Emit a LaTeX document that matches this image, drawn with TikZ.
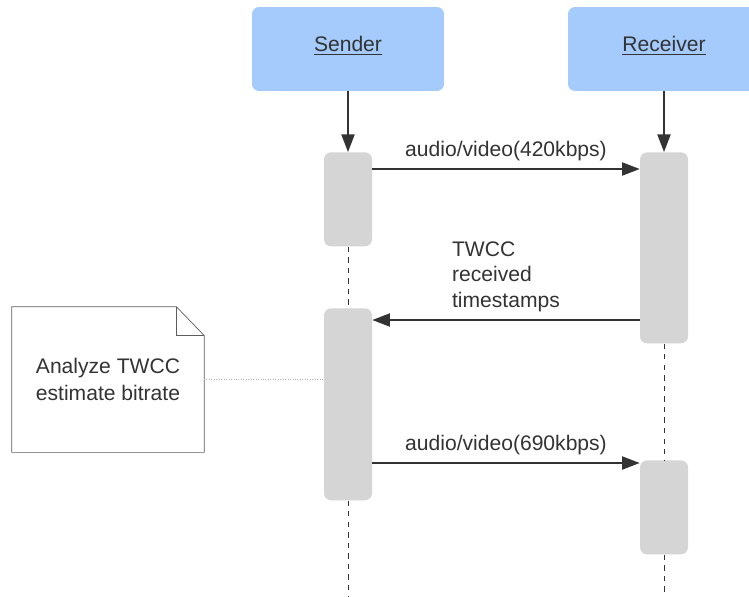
\documentclass[tikz,border=0pt]{standalone}
\usepackage{fontspec}
\setmainfont{Liberation Sans}
\usetikzlibrary{arrows.meta}
\usetikzlibrary{positioning}
\definecolor{headblue}{HTML}{A4CBFB}
\definecolor{bargray}{HTML}{D5D5D5}
\definecolor{inkgray}{HTML}{333333}
\tikzstyle{msg} = [thick,-{Triangle[length=10pt,width=7.5pt]},inkgray]
\tikzstyle{head} = [fill=headblue,rounded corners=4pt,minimum width=3.84cm,minimum height=1.68cm,text=inkgray]
\tikzstyle{bar} = [fill=bargray,rounded corners=4pt,minimum width=0.96cm,inner sep=0pt,anchor=north]
\tikzstyle{life} = [inkgray,dash pattern=on 3pt off 3pt]

\begin{document}
\begin{tikzpicture}[x=0.02cm,y=-0.02cm,font=\fontsize{12}{14.6}\selectfont]

    \path[use as bounding box] (0,0) rectangle (749,596);
    \clip (0,0) rectangle (749,596); % Receiver box runs off the right edge

    \coordinate (m1)     at (0,169);
    \coordinate (m2)     at (0,320);
    \coordinate (m3)     at (0,463);
    \coordinate (noteR)  at (204,379);
    \coordinate (bottom) at (0,596);

    % heads
    \node[head] (sender)   at (348,49) {};
    \node[head] (receiver) at (664,49) {};
    \node[text=inkgray] (senderName)   at ([yshift=0.06cm]sender.center) {\underline{Sender}};
    \node[text=inkgray] (receiverName) at ([yshift=0.06cm]receiver.center) {\underline{Receiver}};

    % activation bars
    \node[bar,minimum height=1.88cm] (sA) at (348,152) {};
    \node[bar,minimum height=3.84cm] (sB) at (348,308) {};
    \node[bar,minimum height=3.82cm] (rA) at (664,152) {};
    \node[bar,minimum height=1.88cm] (rB) at (664,460) {};

    \draw [msg] (sender.south) -- (sA.north);
    \draw [msg] (receiver.south) -- (rA.north);

    % life lines
    \draw [life] (sA.south) -- (sB.north);
    \draw [life] (sB.south) -- (sB.south |- bottom);
    \draw [life] (rA.south) -- (rB.north);
    \draw [life] (rB.south) -- (rB.south |- bottom);

    % messages
    \draw [msg] (sA.east |- m1)
        -- node [above=1pt,text=inkgray] (lblA) {audio/video(420kbps)} (rA.west |- m1);
    \draw [msg] (rA.west |- m2)
        -- node [above=1pt,text=inkgray,align=left] (lblB) {TWCC\\received\\timestamps} (sB.east |- m2);
    \draw [msg] (sB.east |- m3)
        -- node [above=1pt,text=inkgray] (lblC) {audio/video(690kbps)} (rB.west |- m3);

    % note
    \node[minimum width=3.84cm,minimum height=2.9cm,align=center,text=inkgray] (note) at (108,379.5)
        {\raisebox{0.04cm}{Analyze TWCC}\\estimate bitrate};
    \draw [inkgray!80] (note.north west) -- ([xshift=-0.56cm]note.north east)
        -- ([yshift=-0.58cm]note.north east) -- (note.south east)
        -- (note.south west) -- cycle;
    \draw [inkgray!80] ([xshift=-0.56cm]note.north east)
        -- ([xshift=-0.56cm,yshift=-0.58cm]note.north east)
        -- ([yshift=-0.58cm]note.north east);
    \draw [gray!60,densely dotted] (noteR) -- (sB.west |- noteR);

\end{tikzpicture}
\end{document}
